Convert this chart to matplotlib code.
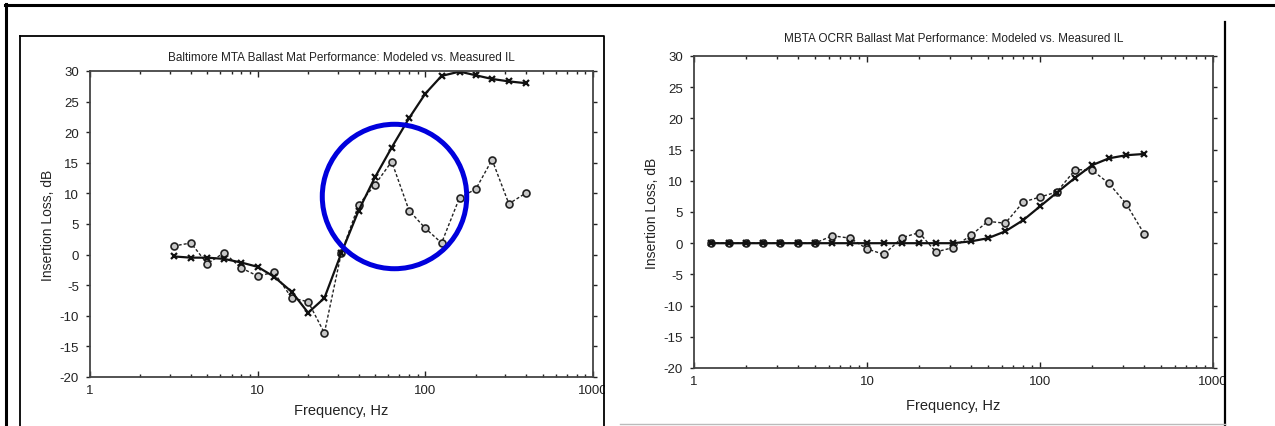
import numpy as np
import matplotlib.pyplot as plt
from matplotlib.lines import Line2D
from matplotlib.patches import Rectangle

plt.rcParams['font.family'] = ['Liberation Sans', 'DejaVu Sans']

# Baltimore MTA (left)
freq_balt = [3.15, 4, 5, 6.3, 8, 10, 12.5, 16, 20, 25, 31.5, 40, 50, 63, 80,
             100, 125, 160, 200, 250, 315, 400]
model_balt = [-0.3, -0.5, -0.5, -0.7, -1.3, -2.0, -3.6, -6.1, -9.5, -7.1, 0.2,
              7.2, 12.6, 17.5, 22.3, 26.3, 29.2, 29.9, 29.3, 28.7, 28.3, 28.0]
meas_balt = [1.4, 1.9, -1.5, 0.3, -2.2, -3.5, -2.9, -7.1, -7.7, -12.8, 0.2,
             8.1, 11.4, 15.2, 7.2, 4.3, 1.9, 9.3, 10.7, 15.5, 8.3, 10.1]

# MBTA OCRR (right)
freq_mbta = [1.25, 1.6, 2, 2.5, 3.15, 4, 5, 6.3, 8, 10, 12.5, 16, 20, 25, 31.5,
             40, 50, 63, 80, 100, 125, 160, 200, 250, 315, 400]
model_mbta = [0, 0, 0, 0, 0, 0, 0, 0, 0, 0, 0, 0, 0, 0, 0,
              0.3, 0.8, 1.9, 3.7, 5.9, 8.1, 10.5, 12.5, 13.6, 14.1, 14.3]
meas_mbta = [0, 0, 0, 0, 0, 0, 0, 1.2, 0.8, -0.9, -1.8, 0.9, 1.7, -1.4, -0.7,
             1.3, 3.5, 3.2, 6.6, 7.4, 8.2, 11.8, 11.7, 9.6, 6.3, 1.5]

yticks = [30, 25, 20, 15, 10, 5, 0, -5, -10, -15, -20]
xticks = [1, 10, 100, 1000]
xticklabels = ['1', '10', '100', '1000']

W, H = 1275, 427
fig = plt.figure(figsize=(W / 100, H / 100), dpi=100)


def px(x0, y0, x1, y1):
    return [x0 / W, 1 - y1 / H, (x1 - x0) / W, (y1 - y0) / H]


def setup(ax, title, title_pad, xpad):
    ax.set_xscale('log')
    ax.set_xlim(1, 1000)
    ax.set_ylim(-20, 30)
    ax.set_xticks(xticks)
    ax.set_xticklabels(xticklabels)
    ax.set_yticks(yticks)
    ax.set_yticklabels([str(v) for v in yticks])
    ax.tick_params(which='both', direction='in', top=True, right=True,
                   labelsize=9.5, colors='#222222', width=1, pad=5)
    ax.tick_params(which='major', length=4)
    ax.tick_params(which='minor', length=2.5)
    ax.tick_params(axis='y', which='major', direction='out', length=3)
    for s in ax.spines.values():
        s.set_linewidth(1.3)
        s.set_color('#444444')
    ax.set_title(title, fontsize=8.5, pad=title_pad, color='#222222')
    ax.set_xlabel('Frequency, Hz', fontsize=10.5, color='#222222', labelpad=xpad)
    ax.set_ylabel('Insertion Loss, dB', fontsize=10, color='#222222', labelpad=3)


def draw(ax, f, model, meas):
    ax.plot(f, meas, linestyle=(0, (2.2, 1.5)), color='#222222', lw=1,
            marker='o', ms=5, mfc='#c8c8c8', mec='#222222', mew=1.2)
    ax.plot(f, model, linestyle='-', color='#111111', lw=1.6,
            marker='x', ms=5, mew=1.6)


ax1 = fig.add_axes(px(90, 72, 593, 378))
setup(ax1, 'Baltimore MTA Ballast Mat Performance: Modeled vs. Measured IL', 8, 5)
draw(ax1, freq_balt, model_balt, meas_balt)
# highlight circle
ax1.plot([65], [9.6], marker='o', ms=104, mfc='none', mec='#0000dd', mew=3.6,
         clip_on=False, zorder=5)

ax2 = fig.add_axes(px(694, 57, 1213, 369))
setup(ax2, 'MBTA OCRR Ballast Mat Performance: Modeled vs. Measured IL', 11, 8)
draw(ax2, freq_mbta, model_mbta, meas_mbta)

# page frames (with white patches that cut off the "1000" labels)
fig.add_artist(Rectangle((605 / W, 1 - 400 / H), 40 / W, 30 / H,
                         transform=fig.transFigure, fc='white', ec='none', zorder=20))
fig.add_artist(Rectangle((1226 / W, 1 - 400 / H), 49 / W, 30 / H,
                         transform=fig.transFigure, fc='white', ec='none', zorder=20))


def fline(xs, ys, lw, color='black'):
    fig.add_artist(Line2D([x / W for x in xs], [1 - y / H for y in ys],
                          transform=fig.transFigure, lw=lw, color=color, zorder=30))


fline([5, 1275], [5.5, 5.5], 2.2)
fline([5.5, 5.5], [5, 427], 2.2)
fline([20, 604, 604], [36.5, 36.5, 427], 1.3)
fline([20, 20], [36.5, 427], 1.3)
fline([1225, 1225], [23, 427], 1.6)
fline([620, 1225], [425, 425], 1.0, '#bbbbbb')

fig.savefig('out.png', dpi=100)
